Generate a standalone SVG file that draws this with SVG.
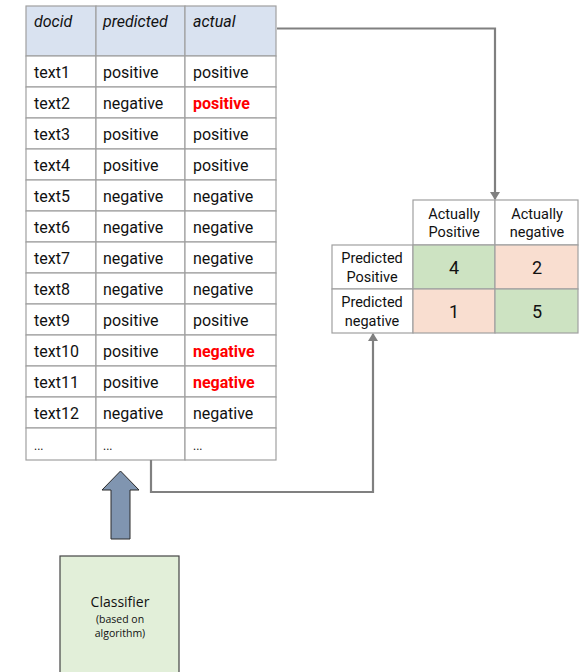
<svg xmlns="http://www.w3.org/2000/svg" width="579" height="672" viewBox="0 0 579 672">
  <style>
    .cell { fill: #ffffff; stroke: #a0a0a0; stroke-width: 1.2; }
    .head { fill: #d9e2f0; stroke: #a0a0a0; stroke-width: 1.2; }
    .good { fill: #cde3c2; stroke: #a0a0a0; stroke-width: 1.2; }
    .bad { fill: #f9ded0; stroke: #a0a0a0; stroke-width: 1.2; }
    .t { font-family: Roboto, "Liberation Sans", sans-serif; font-size: 16px; fill: #111; }
    .ti { font-family: Roboto, "Liberation Sans", sans-serif; font-size: 16px; font-style: italic; fill: #111; }
    .red { fill: #ff0000; font-weight: bold; }
    .m { font-family: Roboto, "Liberation Sans", sans-serif; font-size: 14.5px; fill: #111; text-anchor: middle; }
    .n { font-family: Roboto, "Liberation Sans", sans-serif; font-size: 18px; fill: #111; text-anchor: middle; }
    .conn { fill: none; stroke: #808080; stroke-width: 2.2; }
  </style>
  <defs>
    <marker id="arr" markerWidth="8" markerHeight="10" refX="7" refY="5" orient="auto" markerUnits="userSpaceOnUse">
      <path d="M0,0 L8,5 L0,10 Z" fill="#808080"/>
    </marker>
  </defs>

  <!-- results table -->
  <g id="results-table">
    <rect class="head" x="26" y="6" width="70" height="50"/>
    <rect class="head" x="96" y="6" width="89" height="50"/>
    <rect class="head" x="185" y="6" width="91" height="50"/>
    <text class="ti" x="34" y="27">docid</text>
    <text class="ti" x="103" y="27">predicted</text>
    <text class="ti" x="193" y="27">actual</text>

    <g id="rows">
      <rect class="cell" x="26" y="56" width="70" height="31"/><rect class="cell" x="96" y="56" width="89" height="31"/><rect class="cell" x="185" y="56" width="91" height="31"/>
      <rect class="cell" x="26" y="87" width="70" height="31"/><rect class="cell" x="96" y="87" width="89" height="31"/><rect class="cell" x="185" y="87" width="91" height="31"/>
      <rect class="cell" x="26" y="118" width="70" height="31"/><rect class="cell" x="96" y="118" width="89" height="31"/><rect class="cell" x="185" y="118" width="91" height="31"/>
      <rect class="cell" x="26" y="149" width="70" height="31"/><rect class="cell" x="96" y="149" width="89" height="31"/><rect class="cell" x="185" y="149" width="91" height="31"/>
      <rect class="cell" x="26" y="180" width="70" height="31"/><rect class="cell" x="96" y="180" width="89" height="31"/><rect class="cell" x="185" y="180" width="91" height="31"/>
      <rect class="cell" x="26" y="211" width="70" height="31"/><rect class="cell" x="96" y="211" width="89" height="31"/><rect class="cell" x="185" y="211" width="91" height="31"/>
      <rect class="cell" x="26" y="242" width="70" height="31"/><rect class="cell" x="96" y="242" width="89" height="31"/><rect class="cell" x="185" y="242" width="91" height="31"/>
      <rect class="cell" x="26" y="273" width="70" height="31"/><rect class="cell" x="96" y="273" width="89" height="31"/><rect class="cell" x="185" y="273" width="91" height="31"/>
      <rect class="cell" x="26" y="304" width="70" height="31"/><rect class="cell" x="96" y="304" width="89" height="31"/><rect class="cell" x="185" y="304" width="91" height="31"/>
      <rect class="cell" x="26" y="335" width="70" height="31"/><rect class="cell" x="96" y="335" width="89" height="31"/><rect class="cell" x="185" y="335" width="91" height="31"/>
      <rect class="cell" x="26" y="366" width="70" height="31"/><rect class="cell" x="96" y="366" width="89" height="31"/><rect class="cell" x="185" y="366" width="91" height="31"/>
      <rect class="cell" x="26" y="397" width="70" height="31"/><rect class="cell" x="96" y="397" width="89" height="31"/><rect class="cell" x="185" y="397" width="91" height="31"/>
      <rect class="cell" x="26" y="428" width="70" height="32"/><rect class="cell" x="96" y="428" width="89" height="32"/><rect class="cell" x="185" y="428" width="91" height="32"/>

      <text class="t" x="34" y="78">text1</text><text class="t" x="103" y="78">positive</text><text class="t" x="193" y="78">positive</text>
      <text class="t" x="34" y="109">text2</text><text class="t" x="103" y="109">negative</text><text class="t red" x="193" y="109">positive</text>
      <text class="t" x="34" y="140">text3</text><text class="t" x="103" y="140">positive</text><text class="t" x="193" y="140">positive</text>
      <text class="t" x="34" y="171">text4</text><text class="t" x="103" y="171">positive</text><text class="t" x="193" y="171">positive</text>
      <text class="t" x="34" y="202">text5</text><text class="t" x="103" y="202">negative</text><text class="t" x="193" y="202">negative</text>
      <text class="t" x="34" y="233">text6</text><text class="t" x="103" y="233">negative</text><text class="t" x="193" y="233">negative</text>
      <text class="t" x="34" y="264">text7</text><text class="t" x="103" y="264">negative</text><text class="t" x="193" y="264">negative</text>
      <text class="t" x="34" y="295">text8</text><text class="t" x="103" y="295">negative</text><text class="t" x="193" y="295">negative</text>
      <text class="t" x="34" y="326">text9</text><text class="t" x="103" y="326">positive</text><text class="t" x="193" y="326">positive</text>
      <text class="t" x="34" y="357">text10</text><text class="t" x="103" y="357">positive</text><text class="t red" x="193" y="357">negative</text>
      <text class="t" x="34" y="388">text11</text><text class="t" x="103" y="388">positive</text><text class="t red" x="193" y="388">negative</text>
      <text class="t" x="34" y="419">text12</text><text class="t" x="103" y="419">negative</text><text class="t" x="193" y="419">negative</text>
      <text class="t" x="34" y="450" style="font-size:12px">...</text><text class="t" x="103" y="450" style="font-size:12px">...</text><text class="t" x="193" y="450" style="font-size:12px">...</text>
    </g>
  </g>

  <!-- confusion matrix -->
  <g id="confusion-matrix">
    <rect class="cell" x="413" y="200" width="82" height="45"/>
    <rect class="cell" x="495" y="200" width="83" height="45"/>
    <rect class="cell" x="332" y="245" width="81" height="44"/>
    <rect class="cell" x="332" y="289" width="81" height="44"/>
    <rect class="good" x="413" y="245" width="82" height="44"/>
    <rect class="bad" x="495" y="245" width="83" height="44"/>
    <rect class="bad" x="413" y="289" width="82" height="44"/>
    <rect class="good" x="495" y="289" width="83" height="44"/>
    <text class="m" x="454" y="219">Actually</text>
    <text class="m" x="454" y="237">Positive</text>
    <text class="m" x="537" y="219">Actually</text>
    <text class="m" x="537" y="237">negative</text>
    <text class="m" x="372" y="263">Predicted</text>
    <text class="m" x="372" y="282">Positive</text>
    <text class="m" x="372" y="307">Predicted</text>
    <text class="m" x="372" y="326">negative</text>
    <text class="n" x="454" y="274">4</text>
    <text class="n" x="537" y="274">2</text>
    <text class="n" x="454" y="318">1</text>
    <text class="n" x="537" y="318">5</text>
  </g>

  <!-- classifier -->
  <g id="classifier">
    <rect x="60" y="556" width="119" height="120" fill="#e2efd9" stroke="#444" stroke-width="1.2"/>
    <text x="120" y="607" text-anchor="middle" font-family="'Open Sans', 'Liberation Sans', sans-serif" font-size="14" fill="#111">Classifier</text>
    <text x="120" y="623" text-anchor="middle" font-family="'Open Sans', 'Liberation Sans', sans-serif" font-size="10.5" fill="#111">(based on</text>
    <text x="120" y="637" text-anchor="middle" font-family="'Open Sans', 'Liberation Sans', sans-serif" font-size="10.5" fill="#111">algorithm)</text>
  </g>

  <!-- connectors -->
  <g id="connectors">
    <path class="conn" d="M277,28.5 H495 V199" marker-end="url(#arr)"/>
    <path class="conn" d="M151,460 V492 H373 V334" marker-end="url(#arr)"/>
    <path d="M120.5,471 L139,490 L130,490 L130,539 L111,539 L111,490 L102,490 Z" fill="#8095b0" stroke="#2a2a2a" stroke-width="1"/>
  </g>
</svg>
